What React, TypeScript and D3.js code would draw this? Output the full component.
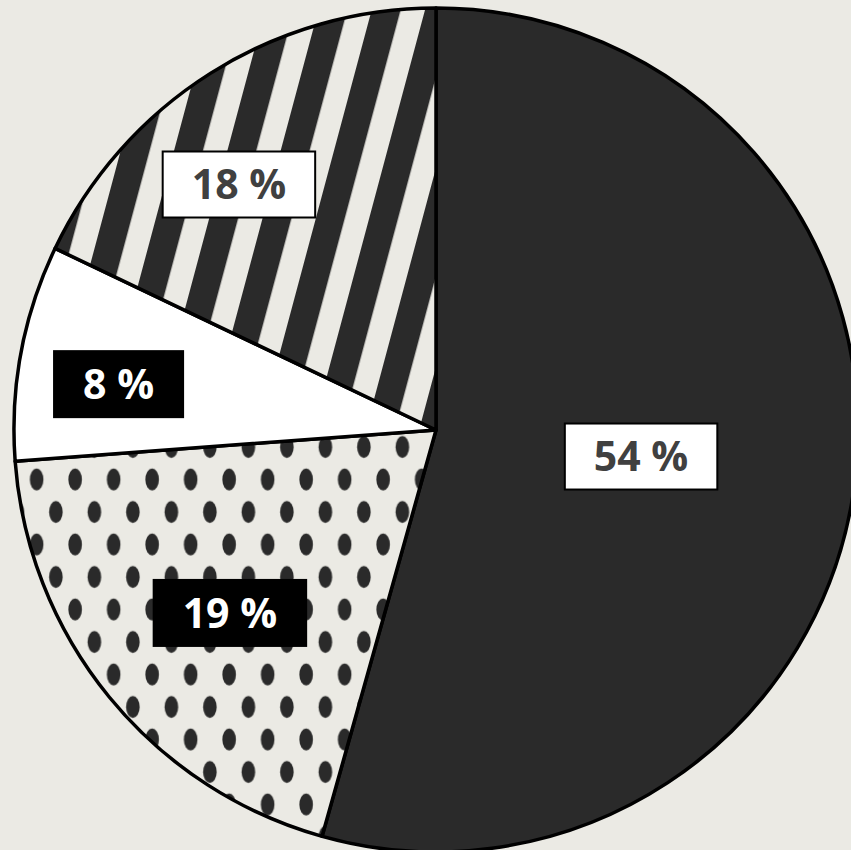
import { useEffect, useRef } from 'react'
import * as d3 from 'd3'

const shares = [54.35, 19.47, 8.26, 17.92]
const labels = ['54 %', '19 %', '8 %', '18 %']
const fills = ['#2a2a2a', 'url(#dots)', '#ffffff', 'url(#stripes)']
const boxFills = ['#ffffff', '#000000', '#000000', '#ffffff']
const textFills = ['#404040', '#ffffff', '#ffffff', '#404040']
// best-fit label spots: radius as share of pie radius, angle nudge in degrees
const labelRadius = [0.49, 0.653, 0.76, 0.746]
const labelNudge = [-0.46, -2.3, -2.4, -6.5]

const W = 851
const H = 850
const BG = '#ebeae4'
const DARK = '#2a2a2a'

export default function App() {
  const ref = useRef<SVGSVGElement>(null)

  useEffect(() => {
    const svg = d3.select(ref.current)
    svg.selectAll('*').remove()

    const cx = 436
    const cy = 430
    const r = 422

    svg.append('rect').attr('width', W).attr('height', H).attr('fill', BG)

    const defs = svg.append('defs')
    // vertical stripes tilted ~15deg
    const stripes = defs
      .append('pattern')
      .attr('id', 'stripes')
      .attr('patternUnits', 'userSpaceOnUse')
      .attr('width', 51.5)
      .attr('height', 20)
      .attr('patternTransform', 'translate(385.5,90) rotate(15)')
    stripes.append('rect').attr('width', 51.5).attr('height', 20).attr('fill', BG)
    stripes.append('rect').attr('width', 28).attr('height', 20).attr('fill', DARK)

    const dots = defs
      .append('pattern')
      .attr('id', 'dots')
      .attr('patternUnits', 'userSpaceOnUse')
      .attr('width', 38.5)
      .attr('height', 65)
      .attr('patternTransform', `translate(${43.4 - 9.625},${472 - 16.25})`)
    dots.append('rect').attr('width', 38.5).attr('height', 65).attr('fill', BG)
    dots
      .selectAll('ellipse')
      .data([
        [9.625, 16.25],
        [28.875, 48.75],
      ])
      .join('ellipse')
      .attr('cx', (d) => d[0])
      .attr('cy', (d) => d[1])
      .attr('rx', 6.8)
      .attr('ry', 11)
      .attr('fill', DARK)

    const pie = d3.pie<number>().sort(null).value((d) => d)
    const arcs = pie(shares)
    const arc = d3.arc<d3.PieArcDatum<number>>().innerRadius(0).outerRadius(r)

    const g = svg.append('g').attr('transform', `translate(${cx},${cy})`)

    g.selectAll('path')
      .data(arcs)
      .join('path')
      .attr('d', arc)
      .attr('fill', (d, i) => fills[i])
      .attr('stroke', '#000')
      .attr('stroke-width', 3.5)
      .attr('stroke-linejoin', 'round')

    const lab = g
      .selectAll('g.lab')
      .data(arcs)
      .join('g')
      .attr('class', 'lab')
      .attr('transform', (d, i) => {
        const nudge = (labelNudge[i] * Math.PI) / 180
        const la = d3
          .arc<any>()
          .innerRadius(r * labelRadius[i])
          .outerRadius(r * labelRadius[i])
        const [x, y] = la.centroid({
          startAngle: d.startAngle + nudge,
          endAngle: d.endAngle + nudge,
        })
        return `translate(${x},${y})`
      })

    const box = lab.append('rect')
    const txt = lab
      .append('text')
      .text((d, i) => labels[i])
      .attr('text-anchor', 'middle')
      .attr('dy', '0.36em')
      .attr('font-family', '"Open Sans", sans-serif')
      .attr('font-weight', 700)
      .attr('font-size', 41)
      .attr('fill', (d, i) => textFills[i])

    txt.each(function (d, i) {
      const w = (this as SVGTextElement).getComputedTextLength() + 58
      d3.select(box.nodes()[i])
        .attr('x', -w / 2)
        .attr('y', -33)
        .attr('width', w)
        .attr('height', 66)
        .attr('fill', boxFills[i])
        .attr('stroke', '#000')
        .attr('stroke-width', 2)
    })
  }, [])

  return (
    <div style={{ position: 'fixed', left: 0, top: 0, width: W, height: H, overflow: 'hidden' }}>
      <svg ref={ref} width={W} height={H} style={{ display: 'block' }} />
    </div>
  )
}
